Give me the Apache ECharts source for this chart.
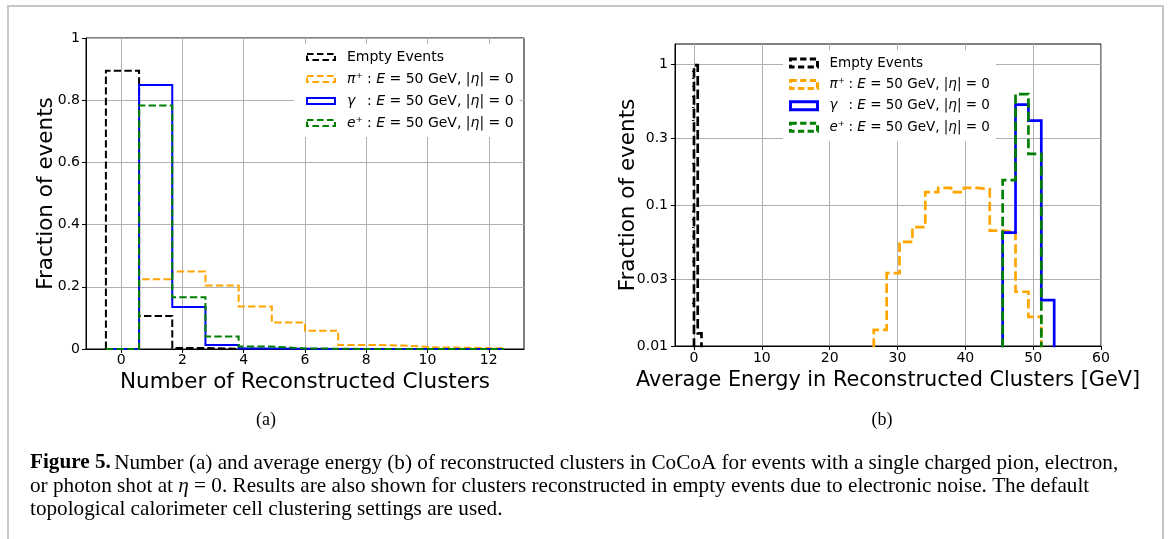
<!DOCTYPE html>
<html>
<head>
<meta charset="utf-8">
<script src="https://cdn.jsdelivr.net/npm/echarts@6/dist/echarts.min.js"></script>
<style>
  html, body { margin: 0; padding: 0; background: #fff; }
  #chart { width: 1170px; height: 539px; }
</style>
</head>
<body>
<div id="chart"></div>
<script>
// ---- (a) number of reconstructed clusters: 12 bins spanning [-0.5, 12.5] ----
const countBinLo = -0.5;
const countBinHi = 12.5;
const countBinCount = 12;
const countEmpty    = [0.895, 0.106, 0.003, 0.001, 0, 0, 0, 0, 0, 0, 0, 0];
const countPion     = [0, 0.224, 0.249, 0.204, 0.137, 0.085, 0.059, 0.013, 0.011, 0.005, 0.004, 0.002];
const countPhoton   = [0, 0.849, 0.135, 0.013, 0.002, 0.001, 0, 0, 0, 0, 0, 0];
const countPositron = [0, 0.783, 0.166, 0.040, 0.008, 0.002, 0.001, 0, 0, 0, 0, 0];
const countXTicks = [0, 2, 4, 6, 8, 10, 12];

// ---- (b) average energy in reconstructed clusters [GeV], log-scale fractions ----
const energyBinStart = 26.5;   // lower edge of the first shared energy bin
const energyBinWidth = 1.9;
const energyEmptyEdges = [0, 0.55, 1.1];
const energyEmpty = [0.99, 0.0123];
const energyPionFirstBin = 0;
const energyPion = [0.013, 0.033, 0.055, 0.070, 0.124, 0.133, 0.124, 0.133, 0.130, 0.066, 0.065, 0.0243, 0.0161];
const energyPhotonFirstBin = 10;
const energyPhoton = [0.0639, 0.520, 0.400, 0.0212];
const energyPositronFirstBin = 10;
const energyPositron = [0.151, 0.617, 0.232];
const energyXTicks = [0, 10, 20, 30, 40, 50, 60];
const energyYTicks = [0.01, 0.03, 0.1, 0.3, 1];
const energyYTickLabels = ['0.01', '0.03', '0.1', '0.3', '1'];
const energyYMinorTicks = [0.02, 0.04, 0.05, 0.06, 0.07, 0.08, 0.09, 0.2, 0.4, 0.5, 0.6, 0.7, 0.8, 0.9];
const energyYMin = 0.01;
const energyYMax = 1.4;

// ---- series names and legend text ----
const seriesNames = ['Empty Events', 'pi+', 'gamma', 'e+'];
const legendText = {
  'Empty Events': '{g| }{t|Empty Events}',
  'pi+':   '{g| }{s|π⁺}{t|: }{i|E}{t| = 50 GeV, |}{i|η}{t|| = 0}',
  'gamma': '{g| }{s|γ}{t|: }{i|E}{t| = 50 GeV, |}{i|η}{t|| = 0}',
  'e+':    '{g| }{s|e⁺}{t|: }{i|E}{t| = 50 GeV, |}{i|η}{t|| = 0}'
};
const colors = { 'Empty Events': '#000000', 'pi+': '#ffa500', 'gamma': '#0000ff', 'e+': '#008000' };

const FONT = 'DejaVu Sans';
const SERIF = 'Liberation Serif';

// Histogram edges
function uniformEdges(lo, hi, n) {
  const e = [];
  for (let i = 0; i <= n; i++) e.push(lo + (hi - lo) * i / n);
  return e;
}
function sharedEdges(firstBin, count) {
  const e = [];
  for (let i = 0; i <= count; i++) e.push(energyBinStart + energyBinWidth * (firstBin + i));
  return e;
}
// Outline of a step histogram (matplotlib histtype='step')
function stepOutline(edges, values, base, tf) {
  const pts = [[edges[0], base]];
  values.forEach((v, i) => {
    pts.push([edges[i], tf(v)]);
    pts.push([edges[i + 1], tf(v)]);
  });
  pts.push([edges[edges.length - 1], base]);
  return pts;
}
const lin = v => v;
const lg = v => Math.log10(v);

function hist(name, data, axisIdx, yIdx, width, dash, z) {
  return {
    type: 'line', name, data,
    xAxisIndex: axisIdx, yAxisIndex: yIdx,
    showSymbol: false, symbol: 'none', clip: true, silent: true, animation: false,
    lineStyle: { color: colors[name], width, type: dash ? dash : 'solid', cap: 'butt', join: 'miter' },
    itemStyle: { color: colors[name] },
    z
  };
}

const countEdges = uniformEdges(countBinLo, countBinHi, countBinCount);
const dashA = [7.4, 3.2];
const dashB = [9.5, 4];
const logBase = lg(energyYMin) - 0.3;

const series = [
  hist('Empty Events', stepOutline(countEdges, countEmpty, 0, lin), 0, 0, 2, dashA, 2),
  hist('pi+',          stepOutline(countEdges, countPion, 0, lin), 0, 0, 2, dashA, 3),
  hist('gamma',        stepOutline(countEdges, countPhoton, 0, lin), 0, 0, 2, null, 4),
  hist('e+',           stepOutline(countEdges, countPositron, 0, lin), 0, 0, 2, dashA, 5),

  hist('Empty Events', stepOutline(energyEmptyEdges, energyEmpty, logBase, lg), 1, 1, 2.7, dashB, 2),
  hist('pi+',   stepOutline(sharedEdges(energyPionFirstBin, energyPion.length), energyPion, logBase, lg), 1, 1, 2.7, dashB, 3),
  hist('gamma', stepOutline(sharedEdges(energyPhotonFirstBin, energyPhoton.length), energyPhoton, logBase, lg), 1, 1, 2.7, null, 4),
  hist('e+',    stepOutline(sharedEdges(energyPositronFirstBin, energyPositron.length), energyPositron, logBase, lg), 1, 1, 2.7, dashB, 5)
];

const tickLabel = { color: '#000', fontFamily: FONT, fontSize: 14 };
const gridLine = { show: true, lineStyle: { color: '#b0b0b0', width: 1 } };
const blackLine = { show: true, onZero: false, lineStyle: { color: '#000', width: 1 } };
const nameStyle = { color: '#000', fontFamily: FONT, fontSize: 21.5 };

function legendFor(left, top, padding, iconW, iconH, lw, fontSize, gap, symW) {
  return {
    show: true, orient: 'vertical', left, top, padding,
    itemWidth: iconW, itemHeight: iconH, itemGap: gap,
    backgroundColor: '#ffffff', borderWidth: 0, selectedMode: false,
    data: seriesNames.map(n => ({
      name: n, icon: 'rect',
      itemStyle: {
        color: 'rgba(0,0,0,0)', borderColor: colors[n], borderWidth: lw,
        borderType: n === 'gamma' ? 'solid' : [iconW / 4.3, iconW / 8]
      }
    })),
    formatter: n => legendText[n],
    textStyle: {
      color: '#000', fontFamily: FONT, fontSize, lineHeight: 16,
      rich: {
        g: { width: 7, fontSize, fontFamily: FONT },
        t: { fontSize, fontFamily: FONT, color: '#000' },
        i: { fontSize, fontFamily: FONT, fontStyle: 'italic', color: '#000' },
        s: { fontSize, fontFamily: FONT, fontStyle: 'italic', color: '#000', width: symW }
      }
    }
  };
}

const option = {
  backgroundColor: '#ffffff',
  animation: false,
  grid: [
    { left: 86, top: 38, width: 438, height: 311, show: true, borderColor: '#000', borderWidth: 1, backgroundColor: 'transparent', containLabel: false },
    { left: 675, top: 44, width: 426, height: 302, show: true, borderColor: '#000', borderWidth: 1, backgroundColor: 'transparent', containLabel: false }
  ],
  xAxis: [
    {
      type: 'value', gridIndex: 0, min: countBinLo - 0.65, max: countBinHi + 0.65,
      axisLine: blackLine,
      axisTick: { show: true, length: 4, lineStyle: { color: '#000' }, customValues: countXTicks },
      axisLabel: Object.assign({ margin: 4, customValues: countXTicks }, tickLabel),
      splitLine: gridLine,
      name: 'Number of Reconstructed Clusters', nameLocation: 'middle', nameGap: 21, nameTextStyle: nameStyle
    },
    {
      type: 'value', gridIndex: 1, min: -2.8, max: 60,
      axisLine: blackLine,
      axisTick: { show: true, length: 4, lineStyle: { color: '#000' }, customValues: energyXTicks },
      axisLabel: Object.assign({ margin: 5, customValues: energyXTicks }, tickLabel),
      splitLine: gridLine,
      name: 'Average Energy in Reconstructed Clusters [GeV]', nameLocation: 'middle', nameGap: 21,
      nameTextStyle: Object.assign({}, nameStyle, { fontSize: 20.8 })
    }
  ],
  yAxis: [
    {
      type: 'value', gridIndex: 0, min: 0, max: 1, interval: 0.2,
      axisLine: blackLine,
      axisTick: { show: true, length: 4, lineStyle: { color: '#000' } },
      axisLabel: Object.assign({ margin: 6 }, tickLabel),
      splitLine: gridLine,
      name: 'Fraction of events', nameLocation: 'middle', nameGap: 29, nameRotate: 90, nameMoveOverlap: false,
      nameTextStyle: nameStyle
    },
    {
      type: 'value', gridIndex: 1, min: lg(energyYMin), max: lg(energyYMax),
      axisLine: blackLine,
      axisTick: { show: true, length: 4, lineStyle: { color: '#000' }, customValues: energyYTicks.map(lg) },
      axisLabel: Object.assign({
        margin: 7, customValues: energyYTicks.map(lg),
        formatter: v => {
          let best = 0;
          energyYTicks.forEach((t, i) => { if (Math.abs(lg(t) - v) < Math.abs(lg(energyYTicks[best]) - v)) best = i; });
          return energyYTickLabels[best];
        }
      }, tickLabel),
      splitLine: gridLine,
      name: 'Fraction of events', nameLocation: 'middle', nameGap: 36, nameRotate: 90, nameMoveOverlap: false,
      nameTextStyle: nameStyle
    },
    {
      // minor log ticks
      type: 'value', gridIndex: 1, min: lg(energyYMin), max: lg(energyYMax), position: 'left',
      axisLine: { show: false },
      axisTick: { show: true, length: 2, lineStyle: { color: '#000' }, customValues: energyYMinorTicks.map(lg) },
      axisLabel: { show: false },
      splitLine: { show: false }
    }
  ],
  legend: [
    legendFor(294, 44, [5, 6, 6, 12], 28, 6, 2, 14, 6, 20),
    legendFor(783, 50, [5, 6, 6, 6], 27, 8, 3, 13.5, 5.4, 19)
  ],
  series,
  graphic: [
    { type: 'rect', silent: true, z: -10, shape: { x: 8, y: 6, width: 1155, height: 620 }, style: { fill: 'none', stroke: '#c6c6c6', lineWidth: 2 } },
    { type: 'text', silent: true, x: 266, y: 420, style: { text: '(a)', fontFamily: SERIF, fontSize: 18, fill: '#000', align: 'center', verticalAlign: 'middle' } },
    { type: 'text', silent: true, x: 882, y: 420, style: { text: '(b)', fontFamily: SERIF, fontSize: 18, fill: '#000', align: 'center', verticalAlign: 'middle' } },
    { type: 'text', silent: true, x: 30, y: 463, style: {
        text: '{b|Figure 5.} {r|Number (a) and average energy (b) of reconstructed clusters in CoCoA for events with a single charged pion, electron,}',
        verticalAlign: 'middle', align: 'left',
        rich: { b: { fontFamily: SERIF, fontSize: 21.2, fontWeight: 'bold', fill: '#000' }, r: { fontFamily: SERIF, fontSize: 21.2, fill: '#000' } } } },
    { type: 'text', silent: true, x: 30, y: 486, style: {
        text: '{r|or photon shot at }{i|η}{r| = 0. Results are also shown for clusters reconstructed in empty events due to electronic noise. The default}',
        verticalAlign: 'middle', align: 'left',
        rich: { i: { fontFamily: SERIF, fontSize: 21.2, fontStyle: 'italic', fill: '#000' }, r: { fontFamily: SERIF, fontSize: 21.2, fill: '#000' } } } },
    { type: 'text', silent: true, x: 30, y: 509, style: {
        text: 'topological calorimeter cell clustering settings are used.',
        verticalAlign: 'middle', align: 'left', fontFamily: SERIF, fontSize: 21.2, fill: '#000' } }
  ]
};

const chart = echarts.init(document.getElementById('chart'), null, { renderer: 'canvas' });
chart.setOption(option);
</script>
</body>
</html>
